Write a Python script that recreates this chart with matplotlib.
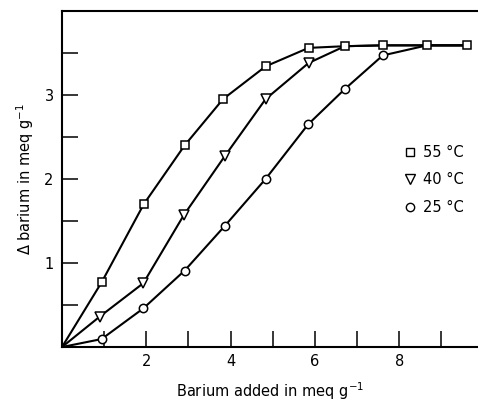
import numpy as np
import matplotlib.pyplot as plt
from matplotlib.lines import Line2D

# barium uptake curves
x55 = [0, 0.94, 1.94, 2.91, 3.82, 4.83, 5.85, 6.71, 7.61, 8.66, 9.61]
y55 = [0, 0.77, 1.70, 2.40, 2.95, 3.34, 3.56, 3.58, 3.59, 3.59, 3.59]

x40 = [0, 0.89, 1.93, 2.89, 3.86, 4.83, 5.85, 6.71, 7.61, 8.66, 9.61]
y40 = [0, 0.36, 0.76, 1.57, 2.27, 2.95, 3.38, 3.58, 3.59, 3.59, 3.59]

x25 = [0, 0.94, 1.93, 2.91, 3.86, 4.83, 5.84, 6.71, 7.61, 8.66, 9.61]
y25 = [0, 0.095, 0.46, 0.91, 1.44, 2.00, 2.65, 3.07, 3.47, 3.59, 3.59]

labels = ["55 °C", "40 °C", "25 °C"]
markers = ["s", "v", "o"]

fig = plt.figure(figsize=(4.78, 4.04), dpi=100)
ax = fig.add_axes([0.1297, 0.141, 0.8703, 0.832])

mk = dict(color="black", lw=1.5, mfc="white", mec="black", mew=1.1, ms=6)
ax.plot(x25, y25, marker="o", markevery=slice(1, 9), **mk)
ax.plot(x40, y40, marker="v", markevery=slice(1, 7), **dict(mk, ms=7))
ax.plot(x55, y55, marker="s", markevery=slice(1, None), **mk)

ax.set_xlim(0, 9.87)
ax.set_ylim(0, 4.0)
ax.set_xticks([2, 4, 6, 8])
ax.set_xticks([1, 3, 5, 7, 9], minor=True)
ax.set_yticks([1, 2, 3])
ax.set_yticks([0.5, 1.5, 2.5, 3.5], minor=True)
ax.tick_params(which="both", direction="in", length=11.5, width=1.1)
ax.tick_params(axis="x", which="major", labelsize=10.5, pad=5)
ax.tick_params(axis="y", which="major", labelsize=10.5, pad=6)

ax.spines["right"].set_visible(False)
for s in ["left", "top", "bottom"]:
    ax.spines[s].set_linewidth(1.5)

ax.set_xlabel("Barium added in meq g$^{-1}$", fontsize=10.5, labelpad=8)
ax.set_ylabel("Δ barium in meq g$^{-1}$", fontsize=10.5, labelpad=6)

handles = [Line2D([], [], ls="", marker=m, mfc="white", mec="black",
                  mew=1.0, ms=6 if m != "v" else 7, color="black") for m in markers]
ax.legend(handles, labels, loc="center left", bbox_to_anchor=(0.805, 0.497),
          frameon=False, fontsize=10.5, handlelength=0.8, handletextpad=0.5,
          labelspacing=0.85, borderpad=0)

plt.savefig("out.png", dpi=100)
